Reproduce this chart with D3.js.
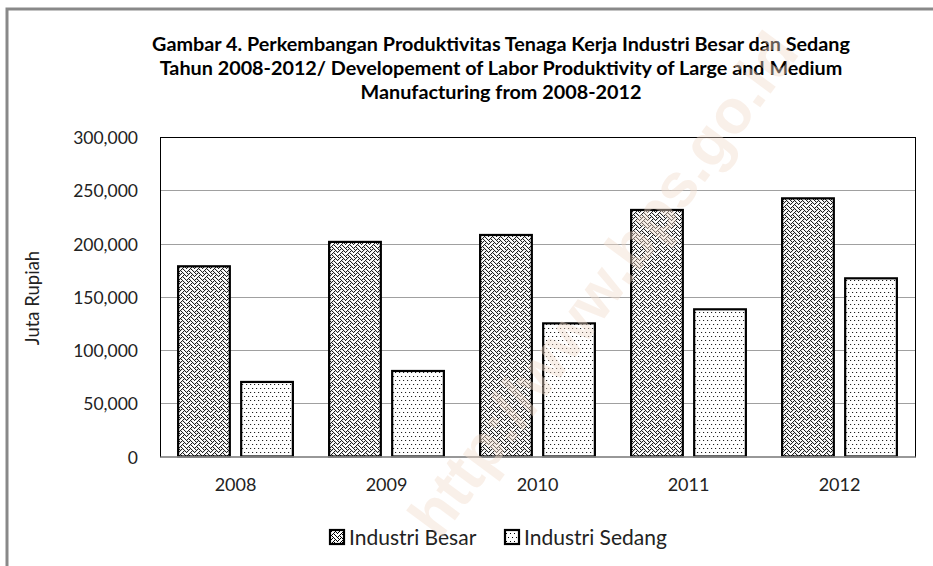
<!DOCTYPE html>
<html>
<head>
<meta charset="utf-8">
<script src="https://cdn.jsdelivr.net/npm/d3@7"></script>
<style>
  body { margin: 0; background: #fff; }
  svg { display: block; }
</style>
</head>
<body>
<div id="chart"></div>
<script>
    // Data
    var years = ['2008', '2009', '2010', '2011', '2012']
    var seriesNames = ['Industri Besar', 'Industri Sedang']
    var besar = [178600, 201500, 208000, 231500, 242400]
    var sedang = [70000, 80300, 125000, 138200, 167300]
    var yTicks = [0, 50000, 100000, 150000, 200000, 250000, 300000]
    var titleLines = [
        'Gambar 4. Perkembangan Produktivitas Tenaga Kerja Industri Besar dan Sedang',
        'Tahun 2008-2012/ Developement of Labor Produktivity of Large and Medium',
        'Manufacturing from 2008-2012'
    ]

    var W = 933, H = 566
    var font = 'Lato, "Open Sans", sans-serif'

    var svg = d3.select('#chart').append('svg')
        .attr('width', W)
        .attr('height', H)

    var defs = svg.append('defs')

    // Weave pattern (Industri Besar) - 8x8 bitmap
    var weave = [0x88, 0x54, 0x22, 0x45, 0x88, 0x14, 0x22, 0x51]
    // Sparse dots (Industri Sedang)
    var dots = [0x88, 0x00, 0x00, 0x00, 0x22, 0x00, 0x00, 0x00]

    function bitmapPattern(id, rows) {
        var p = defs.append('pattern')
            .attr('id', id)
            .attr('patternUnits', 'userSpaceOnUse')
            .attr('width', 8).attr('height', 8)
        p.append('rect').attr('width', 8).attr('height', 8).attr('fill', '#fff')
        rows.forEach(function(r, j) {
            for (var i = 0; i < 8; i++) {
                if (r & (0x80 >> i)) {
                    p.append('rect')
                        .attr('x', i).attr('y', j)
                        .attr('width', 1).attr('height', 1)
                        .attr('fill', '#000')
                }
            }
        })
    }
    bitmapPattern('pat-besar', weave)
    bitmapPattern('pat-sedang', dots)
    var fills = ['url(#pat-besar)', 'url(#pat-sedang)']

    // outer gray frame (runs off the right / bottom)
    svg.append('rect')
        .attr('x', 7).attr('y', 9)
        .attr('width', W + 20).attr('height', H + 20)
        .attr('fill', 'none')
        .attr('stroke', '#898989')
        .attr('stroke-width', 3)

    // Title
    svg.append('g').selectAll('text')
        .data(titleLines)
        .enter().append('text')
        .attr('x', 501)
        .attr('y', function(d, i) { return 51 + i * 24 })
        .attr('text-anchor', 'middle')
        .attr('font-family', font)
        .attr('font-weight', 'bold')
        .attr('font-size', 19.8)
        .attr('fill', '#000')
        .text(function(d) { return d })

    // Scales
    var plot = { left: 160, right: 915, top: 137, bottom: 456.5 }

    var y = d3.scaleLinear()
        .domain([0, 300000])
        .range([plot.bottom, plot.top])

    var x0 = d3.scaleBand()
        .domain(years)
        .range([plot.left, plot.right])
        .paddingInner(0.24)
        .paddingOuter(0.12)

    var x1 = d3.scaleBand()
        .domain(seriesNames)
        .range([0, x0.bandwidth()])
        .paddingInner(0.18)

    // gridlines
    svg.append('g').selectAll('line')
        .data(yTicks.slice(1, -1))
        .enter().append('line')
        .attr('x1', plot.left).attr('x2', plot.right)
        .attr('y1', function(d) { return Math.round(y(d)) + 0.5 })
        .attr('y2', function(d) { return Math.round(y(d)) + 0.5 })
        .attr('stroke', '#a0a0a0')
        .attr('stroke-width', 1)

    // plot border
    svg.append('rect')
        .attr('x', plot.left + 0.5).attr('y', plot.top + 0.5)
        .attr('width', plot.right - plot.left)
        .attr('height', plot.bottom - plot.top)
        .attr('fill', 'none')
        .attr('stroke', '#000')
        .attr('stroke-width', 1)

    // y axis tick labels
    var yAxis = d3.axisLeft(y)
        .tickValues(yTicks)
        .tickSize(0)
        .tickPadding(22)
        .tickFormat(d3.format(','))
    var gy = svg.append('g')
        .attr('transform', 'translate(' + plot.left + ',1)')
        .call(yAxis)
    gy.select('.domain').remove()
    gy.selectAll('text')
        .attr('font-family', font)
        .attr('font-size', 17.5)
        .attr('fill', '#222')

    // y axis title
    svg.append('text')
        .attr('transform', 'translate(39,298) rotate(-90)')
        .attr('text-anchor', 'middle')
        .attr('font-family', font)
        .attr('font-size', 18.5)
        .attr('fill', '#222')
        .text('Juta Rupiah')

    // bars
    var groups = svg.append('g').selectAll('g')
        .data(years)
        .enter().append('g')
        .attr('transform', function(d) { return 'translate(' + x0(d) + ',0)' })

    groups.selectAll('rect')
        .data(function(d, i) {
            return [
                { key: seriesNames[0], value: besar[i], k: 0 },
                { key: seriesNames[1], value: sedang[i], k: 1 }
            ]
        })
        .enter().append('rect')
        .attr('x', function(d) { return x1(d.key) })
        .attr('y', function(d) { return y(d.value) })
        .attr('width', x1.bandwidth())
        .attr('height', function(d) { return y(0) - y(d.value) })
        .attr('fill', function(d) { return fills[d.k] })
        .attr('stroke', '#000')
        .attr('stroke-width', 2.2)

    // x axis line + labels
    var xAxis = d3.axisBottom(x0).tickSize(0).tickPadding(22)
    var gx = svg.append('g')
        .attr('transform', 'translate(0,' + plot.bottom + ')')
        .call(xAxis)
    gx.select('.domain')
        .attr('stroke', '#a0a0a0')
        .attr('stroke-width', 1.5)
    gx.selectAll('text')
        .attr('font-family', font)
        .attr('font-size', 18)
        .attr('fill', '#222')

    // legend
    var legendX = [329, 504]
    var legend = svg.append('g').selectAll('g')
        .data(seriesNames)
        .enter().append('g')
        .attr('transform', function(d, i) { return 'translate(' + legendX[i] + ',529)' })
    legend.append('rect')
        .attr('x', 1).attr('y', 1)
        .attr('width', 14).attr('height', 14)
        .attr('fill', function(d, i) { return fills[i] })
        .attr('stroke', '#000')
        .attr('stroke-width', 2.2)
    legend.append('text')
        .attr('x', 20)
        .attr('y', 15.5)
        .attr('font-family', font)
        .attr('font-size', 21)
        .attr('fill', '#222')
        .text(function(d) { return d })

    // faint watermark
    svg.append('text')
        .attr('transform', 'translate(603,284) rotate(-53.5)')
        .attr('text-anchor', 'middle')
        .attr('dominant-baseline', 'central')
        .attr('font-family', '"Liberation Sans", Arial, sans-serif')
        .attr('font-weight', 'bold')
        .attr('font-size', 62)
        .attr('fill', '#f3dccb')
        .attr('opacity', 0.42)
        .text('http://www.bps.go.id')
</script>
</body>
</html>
